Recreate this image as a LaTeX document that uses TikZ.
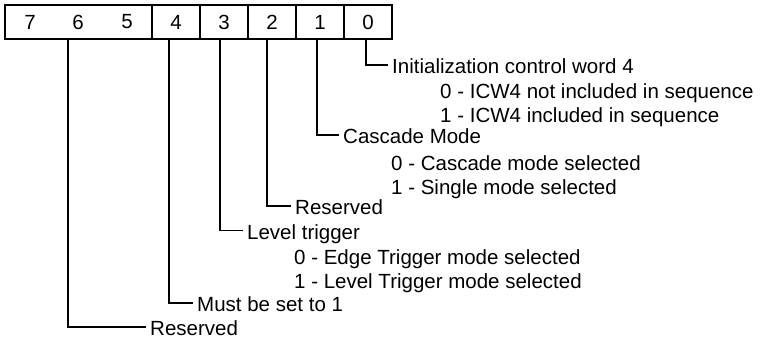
\documentclass[tikz,border=0pt]{standalone}
\usepackage{fontspec}
\setmainfont{Liberation Sans}
\begin{document}
\begin{tikzpicture}[x=1pt,y=-1pt,
  txt/.style={font=\fontsize{20.5}{24}\selectfont},
  lbl/.style={txt,anchor=west,inner xsep=4pt,inner ysep=0pt,text height=17pt,text depth=0pt},
  cell/.style={txt,draw,line width=1.4pt,minimum height=34pt,inner sep=0pt},
  digit/.style={txt,inner sep=0pt},
  conn/.style={line width=1.1pt}]
\useasboundingbox (0,0) rectangle (766,340);
% register cells
\node[cell,minimum width=147pt] (c765) at (78.5,22) {};
\node[digit] (d7) at (30,22) {7};
\node[digit] (d6) at (78,22) {6};
\node[digit] (d5) at (127,22) {5};
\node[cell,minimum width=48pt] (c4) at (176,22) {4};
\node[cell,minimum width=48pt] (c3) at (224,22) {3};
\node[cell,minimum width=48pt] (c2) at (272,22) {2};
\node[cell,minimum width=48pt] (c1) at (320,22) {1};
\node[cell,minimum width=48pt] (c0) at (368,22) {0};
% connector start points
\coordinate (t6) at (68,39);
\coordinate (t4) at (169,39);
\coordinate (t3) at (220,39);
\coordinate (t2) at (267,39);
\coordinate (t1) at (317,39);
\coordinate (t0) at (366,39);
% labels
\node[lbl] (init) at (388,65) {Initialization control word 4};
\node[lbl] (i0) at (436,90) {0 - ICW4 not included in sequence};
\node[lbl] (i1) at (436,114) {1 - ICW4 included in sequence};
\node[lbl] (casc) at (339,135) {Cascade Mode};
\node[lbl] (cs0) at (387,162) {0 - Cascade mode selected};
\node[lbl] (cs1) at (387,185.5) {1 - Single mode selected};
\node[lbl] (res2) at (291,206) {Reserved};
\node[lbl] (lev) at (243,230.5) {Level trigger};
\node[lbl] (lv0) at (290,256) {0 - Edge Trigger mode selected};
\node[lbl] (lv1) at (290,280) {1 - Level Trigger mode selected};
\node[lbl] (must) at (193,303) {Must be set to 1};
\node[lbl] (res6) at (146,327) {Reserved};
% connectors
\draw[conn] (t0) |- (init.west);
\draw[conn] (t1) |- (casc.west);
\draw[conn] (t2) |- (res2.west);
\draw[conn] (t3) |- (lev.west);
\draw[conn] (t4) |- (must.west);
\draw[conn] (t6) |- (res6.west);
\end{tikzpicture}
\end{document}
